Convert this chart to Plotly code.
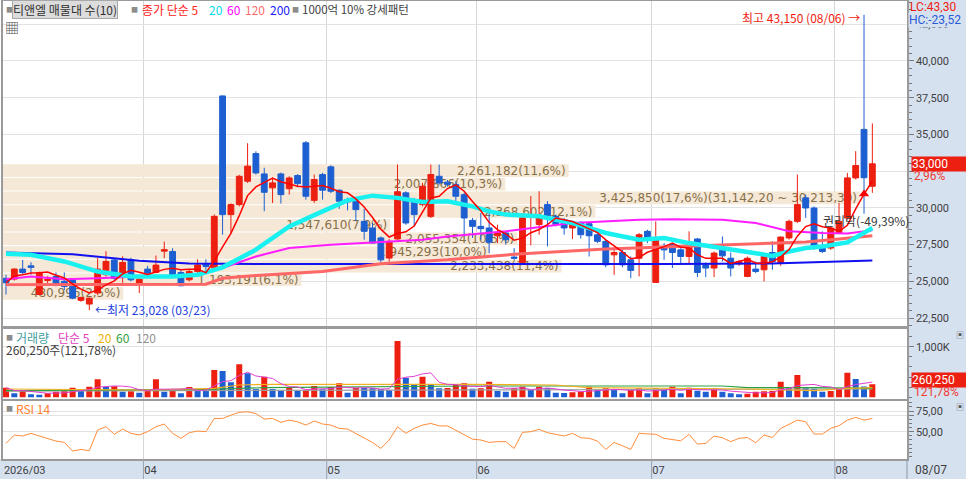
import plotly.graph_objects as go

# ---------------- data ----------------
month_names = ["2026/03", "04", "05", "06", "07", "08"]
month_days = [17, 22, 18, 21, 22, 5]
last_date_label = "08/07"
high_date = "08/06"
low_date = "03/23"

opens = [25200, 25150, 25830, 26050, 24100, 25050, 25330, 25000, 25100, 23700,
         23450, 24200, 25450, 26450, 25560, 26450, 24870, 25830, 25600, 27050,
         27030, 25600, 25100, 25670, 26200, 25900, 37620, 29540, 30220, 31810,
         33700, 32310, 31360, 32310, 31300, 32200, 34430, 30510, 32270, 32790,
         31200, 30560, 30450, 29080, 28630, 27950, 26580, 27880, 31020, 30450,
         30220, 29420, 32150, 31750, 31580, 30900, 29150, 28740, 28630, 28100,
         28290, 26650, 26280, 29350, 28860, 30220, 29420, 29190, 28630, 29010,
         28920, 28170, 27720, 26800, 26960, 26460, 26570, 28400, 24920, 27300,
         27490, 27140, 26690, 27880, 26120, 25900, 27260, 26570, 26190, 25330,
         25830, 25780, 26960, 26280, 27950, 29080, 30680, 29990, 27260, 27260,
         28290, 29310, 32040, 35340, 31470]
highs = [25450, 25900, 26450, 26300, 25650, 25350, 25600, 25600, 25150, 23950,
         23900, 26570, 27050, 26500, 26700, 26600, 25250, 26050, 26750, 27700,
         27250, 25800, 25800, 26500, 26500, 29550, 37650, 30300, 32250, 34400,
         33850, 32730, 32050, 32400, 32150, 32300, 34550, 32270, 32380, 32900,
         31250, 30700, 30560, 29930, 28970, 28050, 27880, 32950, 31130, 30680,
         31700, 32950, 32950, 31900, 31810, 31020, 29310, 29650, 29650, 28850,
         28400, 27260, 29420, 30800, 31130, 30450, 29540, 29310, 29000, 29080,
         28970, 28290, 27830, 27140, 27140, 26690, 28290, 28510, 29080, 27600,
         27600, 27260, 28400, 27950, 26280, 27030, 28050, 26960, 26460, 26690,
         26340, 26800, 27720, 28050, 29200, 32270, 30900, 30100, 28400, 28740,
         30340, 32380, 33860, 43150, 35750]
lows = [24100, 25050, 25450, 25450, 24050, 24750, 24650, 24400, 23780, 23600,
        23028, 24070, 25330, 25100, 24900, 24980, 24200, 25440, 25550, 26570,
        25330, 24650, 24980, 25550, 25670, 25780, 28170, 28300, 30100, 31700,
        32270, 29770, 30330, 30290, 30900, 31400, 30560, 30340, 30560, 31000,
        29930, 29830, 29080, 27830, 27560, 26280, 26340, 27830, 28850, 28740,
        30100, 29310, 31580, 31450, 30220, 28050, 27950, 27830, 26920, 27600,
        27490, 26460, 26200, 27450, 28170, 27370, 28740, 28170, 27880, 27900,
        26690, 27600, 25950, 25440, 25950, 25210, 25330, 27600, 24900, 26460,
        25900, 26190, 26120, 25280, 25280, 25280, 26340, 25330, 26050, 25280,
        25560, 24990, 25780, 26050, 27830, 28970, 29310, 27140, 26920, 27140,
        28240, 29200, 31930, 29600, 31020]
closes = [24900, 25830, 25600, 25950, 25600, 25150, 24760, 24650, 23850, 23900,
          23850, 25830, 26350, 25200, 26280, 25100, 25140, 25560, 26100, 27150,
          25450, 24700, 25670, 26110, 26000, 29420, 29540, 30220, 32150, 32840,
          32380, 31060, 31700, 30900, 32040, 31650, 30790, 31930, 31200, 31130,
          30450, 30400, 29880, 28400, 27600, 26460, 27720, 31100, 28970, 29540,
          31470, 32270, 31700, 31600, 30790, 29310, 28740, 28580, 27650, 28330,
          27830, 26570, 29310, 29500, 29420, 29470, 28860, 28630, 28970, 28170,
          28100, 27720, 26120, 26960, 26120, 25740, 28170, 27880, 27880, 27140,
          26960, 26690, 27650, 25600, 25900, 26920, 26730, 25900, 26340, 26570,
          25670, 26690, 26340, 28010, 29080, 30220, 29990, 27260, 27030, 28630,
          29080, 32040, 32880, 32050, 33000]
volumes = [190000, 78000, 131000, 59000, 52000, 78000, 111000, 124000, 190000, 124000,
           210000, 355000, 210000, 217000, 111000, 118000, 92000, 124000, 355000, 111000,
           144000, 78000, 204000, 144000, 138000, 540000, 520000, 296000, 652000, 474000,
           164000, 408000, 164000, 131000, 190000, 131000, 144000, 223000, 157000, 204000,
           276000, 92000, 190000, 184000, 177000, 164000, 144000, 1113000, 388000, 263000,
           408000, 243000, 177000, 184000, 243000, 276000, 170000, 177000, 309000, 124000,
           111000, 177000, 210000, 144000, 210000, 177000, 92000, 85000, 98000, 111000,
           210000, 144000, 177000, 144000, 78000, 144000, 177000, 78000, 177000, 144000,
           210000, 78000, 190000, 131000, 111000, 177000, 111000, 78000, 59000, 72000,
           111000, 118000, 124000, 309000, 177000, 441000, 177000, 171000, 111000, 124000,
           177000, 487000, 362000, 213700, 260250]
rsi14 = [35.9, 46.0, 44.8, 48.0, 44.8, 42.0, 38.7, 37.1, 26.6, 28.6,
         27.0, 52.0, 56.0, 46.8, 53.2, 48.0, 46.0, 50.0, 56.0, 59.3,
         48.0, 42.0, 48.8, 50.8, 50.0, 66.0, 66.0, 70.0, 73.4, 74.0,
         72.0, 65.3, 66.0, 61.3, 64.0, 62.0, 58.0, 62.9, 59.3, 58.0,
         54.0, 53.2, 48.0, 42.0, 37.0, 29.8, 40.0, 56.0, 48.0, 54.0,
         58.0, 60.0, 57.0, 57.0, 52.0, 46.0, 41.0, 40.0, 37.0, 38.0,
         38.0, 29.8, 49.2, 50.0, 52.8, 48.8, 46.8, 44.8, 48.0, 42.7,
         42.0, 38.7, 28.6, 37.0, 33.0, 28.6, 48.0, 47.2, 46.8, 42.0,
         40.7, 39.0, 46.8, 35.0, 35.9, 44.8, 42.7, 38.0, 42.0, 43.0,
         36.7, 46.0, 43.0, 54.0, 58.9, 64.0, 62.0, 47.2, 47.2, 54.0,
         57.3, 64.0, 67.3, 64.0, 66.0]

# moving averages that need history before the window: read at sample candles
ma20_at = [0, 3, 7, 11, 15, 20, 23, 26, 30, 34, 38, 41, 44, 47, 50, 53, 56, 58, 60,
           64, 68, 72, 76, 79, 82, 86, 90, 92, 94, 96, 98, 101, 104]
ma20_val = [26870, 26800, 26350, 25660, 25330, 25330, 25440, 25950, 27150, 28740,
            29760, 30510, 30830, 30680, 30400, 30450, 30100, 29760, 29540, 29420,
            28970, 28290, 27830, 27950, 27600, 27260, 26870, 26730, 27030, 27260,
            27370, 27650, 28630]
ma60_at = [0, 3, 7, 11, 16, 22, 24, 26, 30, 34, 39, 44, 50, 53, 60, 68, 76, 80, 86,
           90, 94, 98, 101, 104]
ma60_val = [25140, 25330, 25140, 25200, 25330, 25370, 25600, 25900, 26690, 27260,
            27490, 27650, 27830, 28050, 28400, 28970, 29190, 29230, 29190, 28970,
            28400, 28290, 28250, 28470]
ma120_at = [0, 12, 24, 26, 30, 38, 45, 53, 62, 72, 79, 90, 96, 100, 104]
ma120_val = [24760, 24760, 24800, 25200, 25400, 25670, 26200, 26460, 26880, 27200,
             27330, 27560, 27670, 27880, 28100]
ma200_at = [0, 8, 16, 22, 30, 60, 80, 92, 100, 104]
ma200_val = [26960, 26840, 26390, 26210, 26170, 26150, 26170, 26210, 26340, 26410]

vma20_at = [0, 17, 25, 28, 32, 46, 47, 56, 66, 70, 89, 97, 101, 104]
vma20_val = [164000, 144000, 177000, 243000, 256000, 256000, 270000, 256000, 243000,
             190000, 164000, 131000, 177000, 190000]
vma60_at = [0, 24, 31, 47, 56, 86, 89, 97, 104]
vma60_val = [131000, 157000, 190000, 204000, 223000, 223000, 190000, 190000, 177000]
vma120_at = [0, 50, 104]
vma120_val = [124000, 144000, 164000]

ma5_signal_at = [103]

# 매물대 (volume at price), top band first
band_volumes = [2261182, 2007866, 3425850, 2368602, 1547610,
                2055354, 1945293, 2233438, 1193191, 480996]
band_top = 33000.0
band_step = 928.9

# ---------------- styling ----------------
W, H = 966, 479
KR = "Noto Sans CJK KR"
NUM = "Roboto"
RED = "#ec1f10"
BLUE = "#1d5fd0"
PANEL = "#d6e1f0"
GRID = "#e2e2e2"
VGRID = "#d6d6d6"
FRAME = "#9a9a9a"
TXT = "#404040"


def px(x):
    return x / W


def py(y):
    return 1 - y / H


def dec(v, n):
    return f"{v:,.{n}f}".replace(".", ",")


N = len(closes)
idx = list(range(N))
X0, X1 = -0.36, 108.16

bounds = []
cum = 0
for d in month_days[:-1]:
    cum += d
    bounds.append(cum - 0.5)
tick_x = [X0 + 0.02] + bounds


def rolling(vals, n):
    out = []
    for i in range(len(vals)):
        w = vals[max(0, i - n + 1):i + 1]
        out.append(sum(w) / len(w))
    return out


ma5 = rolling(closes, 5)
vma5 = rolling(volumes, 5)
vol_colors = [RED] + [RED if volumes[i] >= volumes[i - 1] else BLUE for i in range(1, N)]

total_band = sum(band_volumes)
vmax_band = max(band_volumes)
band_hi = [band_top - k * band_step for k in range(len(band_volumes))]
band_mid = [h - band_step / 2 for h in band_hi]
band_len = [v / vmax_band * 0.948 * (X1 - X0) for v in band_volumes]
band_text = []
for k, v in enumerate(band_volumes):
    t = f"{v:,}({dec(v / total_band * 100, 1)}%)"
    if v == vmax_band:
        t += f"({dec(band_hi[k], 2)} ~ {dec(band_hi[k] - band_step, 2)})"
    band_text.append(t)

cur, prev = closes[-1], closes[-2]
hi, lo = max(highs), min(lows)
hi_i, lo_i = highs.index(hi), lows.index(lo)
chg = (cur / prev - 1) * 100
vol_ratio = volumes[-1] / volumes[-2] * 100

fig = go.Figure()

# price panel
fig.add_trace(go.Bar(
    orientation="h", y=band_mid, x=band_len, base=X0, width=band_step * 0.92,
    marker=dict(color="#f6e8d6", line=dict(width=0)),
    text=band_text, textposition="inside", insidetextanchor="end",
    constraintext="none", textfont=dict(family="DejaVu Sans", size=12, color="#86704a"),
    hoverinfo="skip", xaxis="x", yaxis="y"))

for at, val, color, width in ((ma200_at, ma200_val, "#1010f0", 2),
                              (ma120_at, ma120_val, "#ff6666", 3),
                              (ma60_at, ma60_val, "#ff1cff", 2),
                              (ma20_at, ma20_val, "#19f0f0", 4.5)):
    fig.add_trace(go.Scatter(x=at, y=val, mode="lines", line=dict(color=color, width=width),
                             hoverinfo="skip", xaxis="x", yaxis="y"))
fig.add_trace(go.Scatter(x=idx, y=ma5, mode="lines", line=dict(color="#ff0000", width=1.5),
                         hoverinfo="skip", xaxis="x", yaxis="y"))

fig.add_trace(go.Candlestick(
    x=idx, open=opens, high=highs, low=lows, close=closes,
    increasing=dict(line=dict(color=RED, width=1), fillcolor=RED),
    decreasing=dict(line=dict(color=BLUE, width=1), fillcolor=BLUE),
    whiskerwidth=0, xaxis="x", yaxis="y"))

fig.add_trace(go.Scatter(x=ma5_signal_at, y=[ma5[i] for i in ma5_signal_at], mode="markers",
                         marker=dict(symbol="triangle-up", size=9, color="#ff0000"),
                         hoverinfo="skip", xaxis="x", yaxis="y"))

# volume panel
fig.add_trace(go.Bar(x=idx, y=volumes, width=0.72, marker=dict(color=vol_colors, line=dict(width=0)),
                     hoverinfo="skip", xaxis="x2", yaxis="y2"))
for at, val, color in ((vma120_at, vma120_val, "#a0a0a0"),
                       (vma60_at, vma60_val, "#2ea043"),
                       (vma20_at, vma20_val, "#f0b020")):
    fig.add_trace(go.Scatter(x=at, y=val, mode="lines", line=dict(color=color, width=1.2),
                             hoverinfo="skip", xaxis="x2", yaxis="y2"))
fig.add_trace(go.Scatter(x=idx, y=vma5, mode="lines", line=dict(color="#e040d0", width=1),
                         hoverinfo="skip", xaxis="x2", yaxis="y2"))

# RSI panel
fig.add_trace(go.Scatter(x=idx, y=rsi14, mode="lines", line=dict(color="#ff8c3a", width=1),
                         hoverinfo="skip", xaxis="x3", yaxis="y3"))

# the tick right under the current-price box stays unlabeled, as in the HTS view
price_ticks = list(range(22500, 42501, 2500))
price_text = ["" if abs(v - cur) < 1000 else f"{v:,}" for v in price_ticks]

xcommon = dict(domain=[px(3), px(907)], range=[X0, X1], tickmode="array", tickvals=tick_x,
               showgrid=True, gridcolor=VGRID, gridwidth=1, zeroline=False,
               showline=True, linecolor=FRAME, linewidth=1.5, mirror=True, fixedrange=True)
ycommon = dict(side="right", showline=True, linecolor=FRAME, linewidth=1.5, mirror=True,
               ticks="outside", ticklen=5, tickcolor="#7a7a7a", showgrid=True, gridcolor=GRID,
               zeroline=False, tickfont=dict(family=NUM, size=11, color=TXT), fixedrange=True)

fig.update_layout(
    width=W, height=H, margin=dict(l=0, r=0, t=0, b=0),
    paper_bgcolor="white", plot_bgcolor="white", showlegend=False,
    font=dict(family=KR, size=12, color=TXT),
    barmode="overlay", boxgap=0.3, boxgroupgap=0,
    xaxis=dict(xcommon, anchor="y", showticklabels=False, ticks="",
               rangeslider=dict(visible=False)),
    xaxis2=dict(xcommon, anchor="y2", matches="x", showticklabels=False, ticks=""),
    xaxis3=dict(xcommon, anchor="y3", matches="x", ticktext=month_names, ticks="",
                ticklabelposition="outside right",
                tickfont=dict(family=NUM, size=11, color=TXT)),
    yaxis=dict(ycommon, anchor="x", domain=[py(326), py(1)], range=[21955, 44084],
               tickvals=price_ticks, ticktext=price_text,
               minor=dict(dtick=500, tick0=0, ticks="outside", ticklen=3,
                          tickcolor="#7a7a7a", showgrid=False)),
    yaxis2=dict(ycommon, anchor="x2", domain=[py(399), py(328.5)], range=[-33600, 1359700],
                tickvals=[1000000], ticktext=["1,000K"],
                minor=dict(dtick=200000, tick0=0, ticks="outside", ticklen=3,
                           tickcolor="#7a7a7a", showgrid=False)),
    yaxis3=dict(ycommon, anchor="x3", domain=[py(459), py(401)], range=[17.0, 87.1],
                tickvals=[50, 70, 75], ticktext=[dec(50, 2), "", dec(75, 2)],
                minor=dict(dtick=5, tick0=0, ticks="outside", ticklen=3,
                           tickcolor="#7a7a7a", showgrid=False)),
)

shapes = [
    dict(type="rect", xref="paper", yref="paper", x0=px(907), x1=1, y0=0, y1=1,
         fillcolor=PANEL, line=dict(width=0), layer="below"),
    dict(type="rect", xref="paper", yref="paper", x0=0, x1=1, y0=0, y1=py(459),
         fillcolor=PANEL, line=dict(width=0), layer="below"),
    dict(type="line", xref="paper", yref="paper", x0=px(907), x1=px(907), y0=0, y1=py(459),
         line=dict(color="#8c96a6", width=1)),
]
for b in bounds:
    shapes.append(dict(type="line", xref="x3", yref="paper", x0=b, x1=b, y0=0, y1=py(459),
                       line=dict(color="#98a2b2", width=1)))
fig.update_layout(shapes=shapes)


def note(text, x, y, color=TXT, size=12, family=KR, xanchor="left", xref="paper",
         yref="paper", **kw):
    return dict(text=text, x=x, y=y, xref=xref, yref=yref, xanchor=xanchor, yanchor="middle",
                showarrow=False, font=dict(color=color, size=size, family=family), **kw)


bullet = dict(color="#8c8c8c", size=7, family=KR)

ann = [
    # price legend
    note("■", px(4), py(9.5), **bullet),
    note("티앤엘 매물대 수(10)", px(12), py(9.5), color="#303030", bgcolor="#dcdcdc",
         bordercolor="#a8a8a8", borderwidth=1, borderpad=0),
    note("■", px(129), py(9.5), **bullet),
    note("종가 단순 5", px(140), py(9.5), color="#ff2020"),
    note("20", px(207), py(9.5), color="#00d8e8"),
    note("60", px(225), py(9.5), color="#ff00ff"),
    note("120", px(243), py(9.5), color="#ff6b6b"),
    note("200", px(268), py(9.5), color="#2020ff"),
    note("■", px(290), py(9.5), **bullet),
    note("1000억 10% 강세패턴", px(300), py(9.5), color=TXT, size=11.5),
    note("▦", px(3), py(27), color="#505050", size=14),
    # volume legend
    note("■", px(4), py(337), **bullet),
    note("거래량", px(14), py(337), color="#3fa0a0"),
    note("단순 5", px(56), py(337), color="#e040c0"),
    note("20", px(96), py(337), color="#f0b000"),
    note("60", px(114), py(337), color="#30a040"),
    note("120", px(134), py(337), color="#909090"),
    note(f"{volumes[-1]:,}주({dec(vol_ratio, 2)}%)", px(4), py(349), color=TXT),
    # rsi legend
    note("■", px(4), py(408), **bullet),
    note("RSI 14", px(14), py(408), color="#ff8030"),
    # high / low / event labels
    note(f"최고 {hi:,} ({high_date}) →", hi_i - 0.2, hi, color="#f01c10", xanchor="right",
         xref="x", yref="y", yshift=-3),
    note(f"←최저 {lo:,} ({low_date})", lo_i + 0.4, lo, color="#2040e0", xref="x", yref="y",
         yshift=1),
    note("권리락(-49,39%)", 97.8, 29150, color="#383838", xref="x", yref="y"),
    # right panel
    note(f"LC:{dec((cur / lo - 1) * 100, 2)}", px(908), py(7), color="#f01c10", family=NUM),
    note(f"HC:{dec((cur / hi - 1) * 100, 2)}", px(908), py(19.5), color="#2a5ad8", family=NUM,
         bgcolor=PANEL, borderpad=0),
    note(f"{cur:,}", px(911), cur, color="white", family=NUM, yref="y", bgcolor=RED,
         width=56, align="left", borderpad=0),
    note(f"{dec(chg, 2)}%", px(912), py(176.5), color="#f03a30", family=NUM),
    note(f"{volumes[-1]:,}", px(911), py(380), color="white", family=NUM, bgcolor=RED,
         width=56, align="left", borderpad=0),
    note(f"{dec(vol_ratio, 2)}%", px(912), py(392), color="#f03a30", family=NUM),
    note(last_date_label, px(913), py(469.5), color=TXT, family=NUM),
    note("▣", px(954), py(334), color="#555555", size=8),
    note("▣", px(954), py(406), color="#555555", size=8),
]
fig.update_layout(annotations=ann)

# the page body's default 8px margin would shift the figure; drop it
fig.write_html("out.html", config={"displayModeBar": False},
               post_script="document.body.style.margin='0px';")
